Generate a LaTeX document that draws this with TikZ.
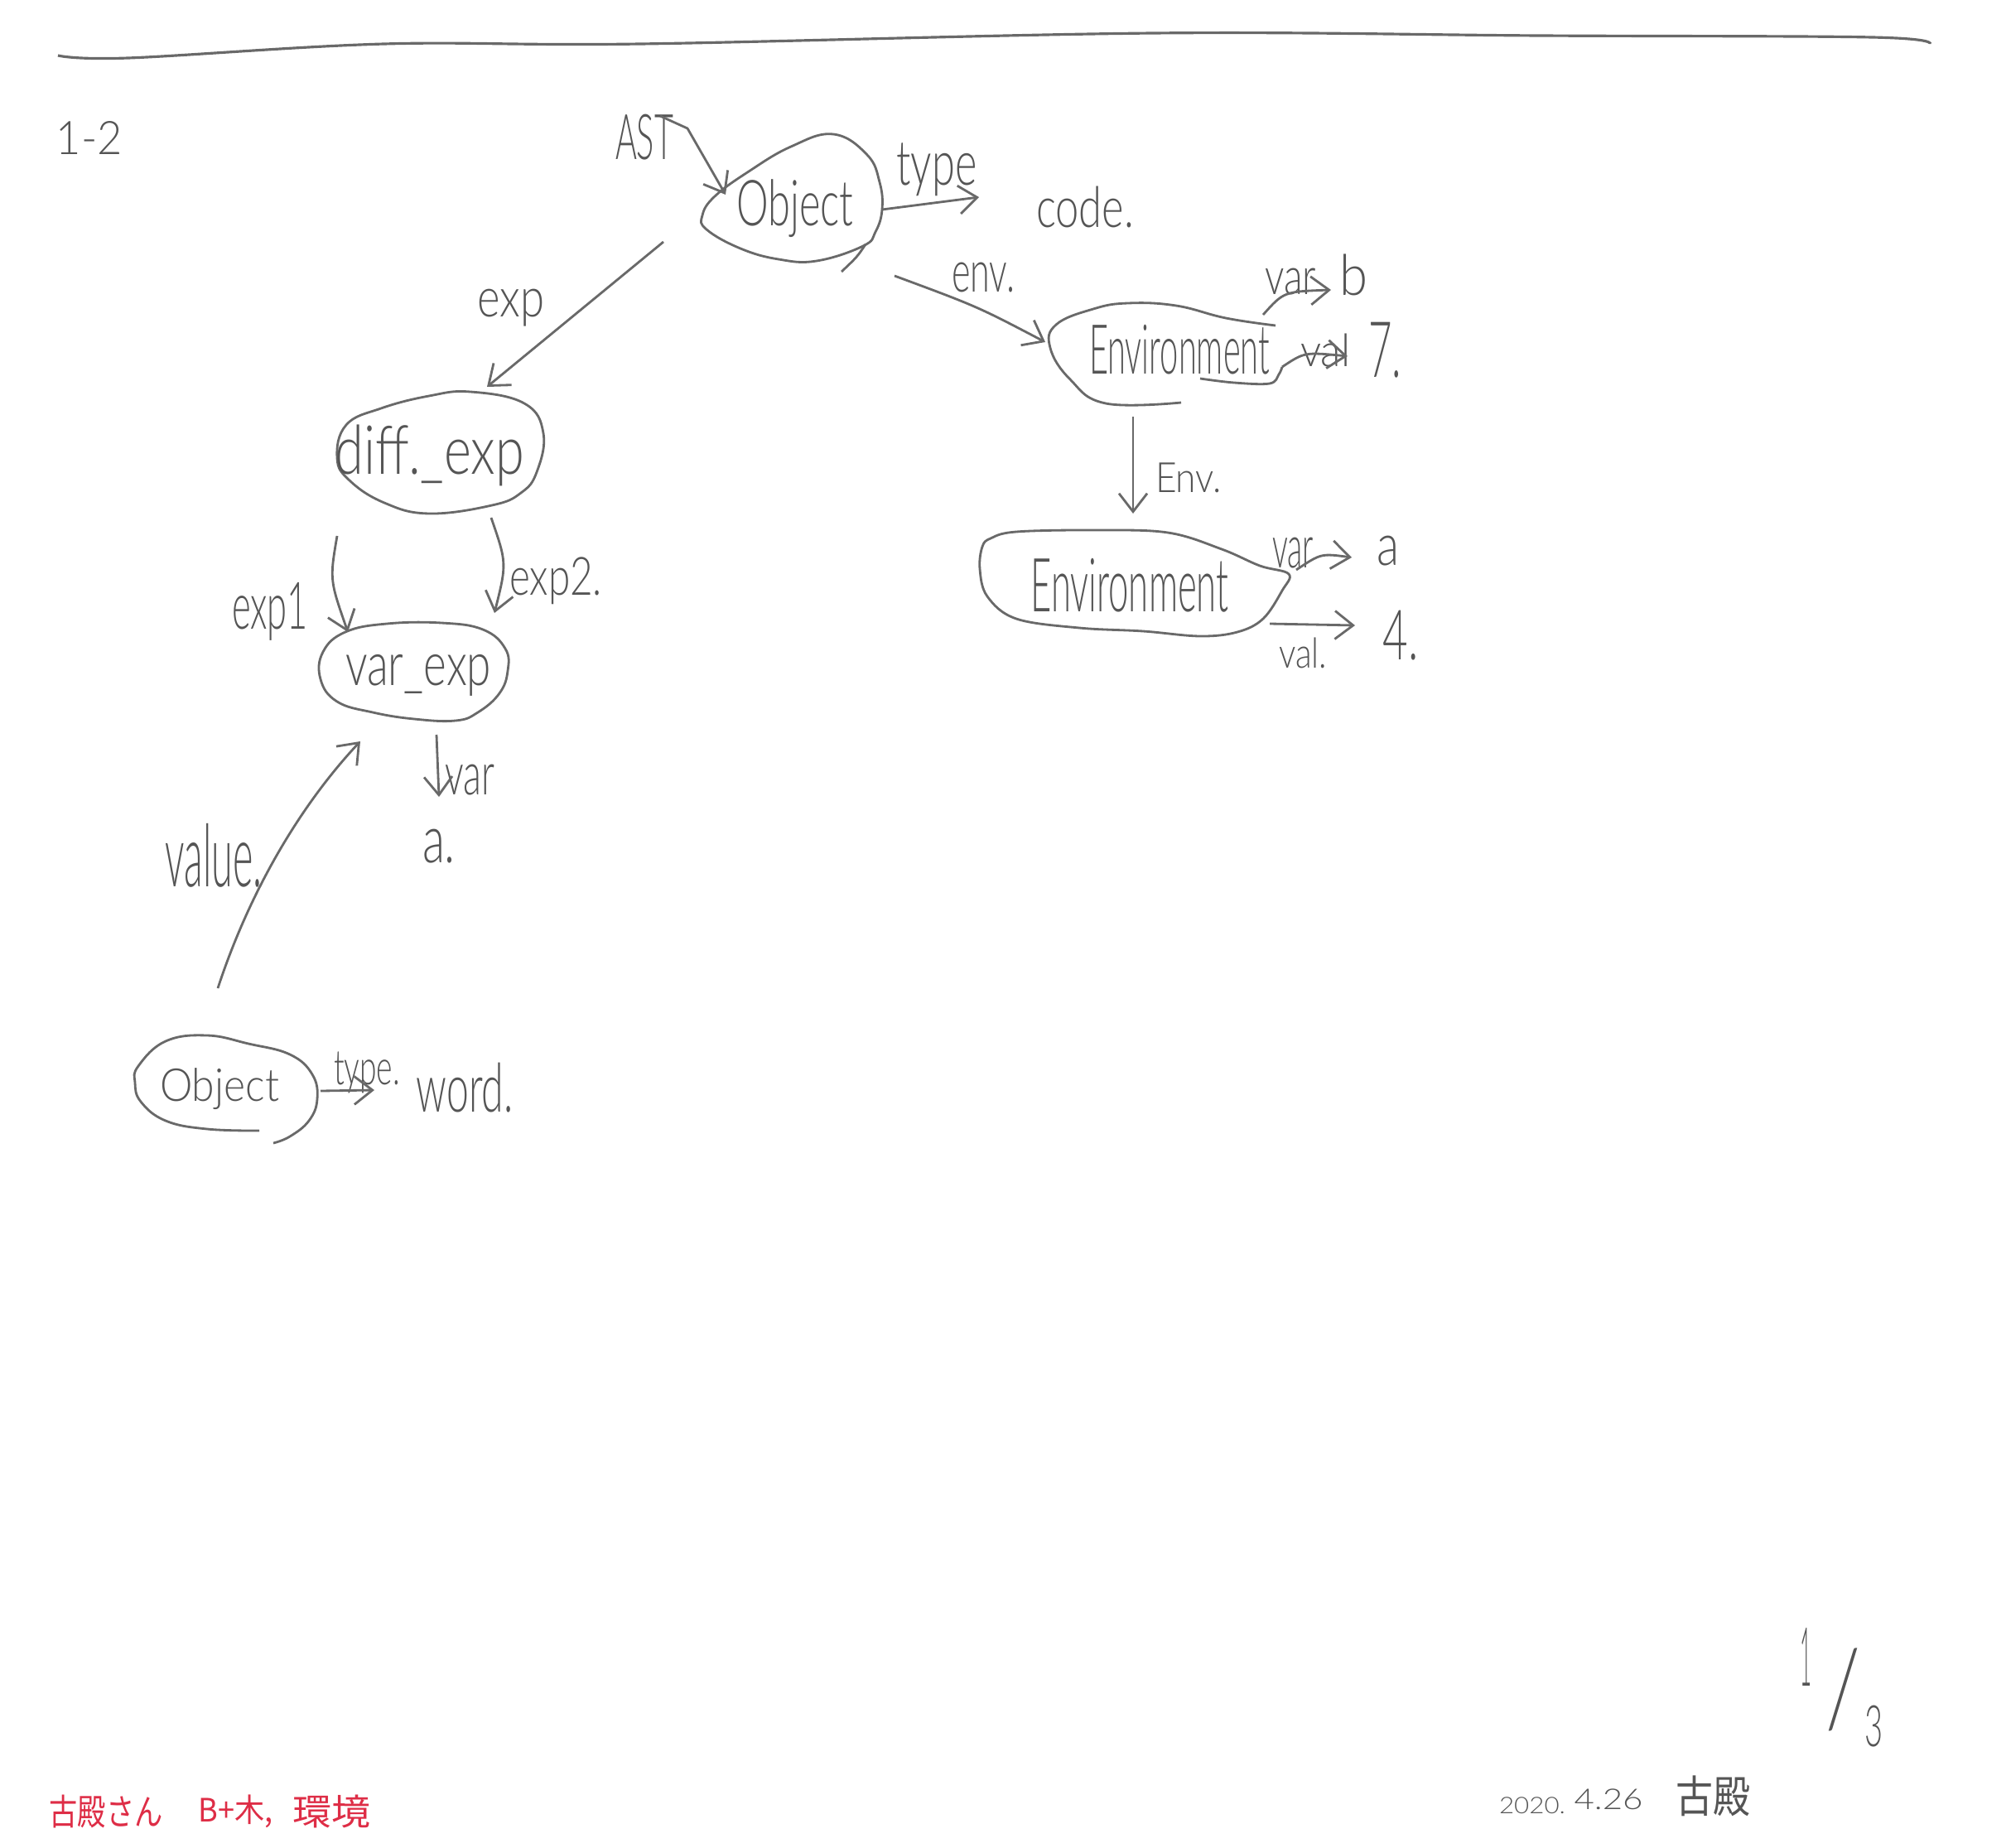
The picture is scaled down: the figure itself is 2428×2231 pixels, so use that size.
\documentclass[tikz,border=0pt]{standalone}
\usepackage{fontspec}
\IfFontExistsTF{Lato Light}{\setmainfont{Lato Light}}{\setmainfont{Noto Sans}}
\newfontfamily\cjk{Noto Sans CJK JP}
\usetikzlibrary{arrows.meta}
\newdimen\px \px=0.01cm
\newcommand{\hw}[3]{\resizebox*{#1\px}{#2\px}{#3}}
\definecolor{pencil}{RGB}{105,105,105}
\definecolor{lead}{RGB}{85,85,85}
\definecolor{redpen}{RGB}{222,45,70}
\begin{document}
\begin{tikzpicture}[x=0.01cm,y=-0.01cm,
  txt/.style={inner sep=0pt,outer sep=0pt,text=lead},
  redtxt/.style={inner sep=0pt,outer sep=0pt,text=redpen},
  blob/.style={draw=pencil,line width=0.8pt},
  conn/.style={draw=pencil,line width=0.8pt,-{Straight Barb[length=2.2mm,width=3.4mm]}}]
\useasboundingbox[fill=white] (0,0) rectangle (2428,2231);

% top rule
\draw[blob,line width=0.9pt] plot[smooth,tension=0.6] coordinates {(70,67) (155,70) (464,53) (774,53) (1393,40) (1858,43) (2260,45) (2330,53)};

% blobs
\draw[blob] plot[smooth cycle,tension=0.7] coordinates {(1006,162) (1047,187) (1062,220) (1065,253) (1057,280) (1042,297) (986,315) (940,313) (894,300) (853,277) (848,260) (863,237) (904,207) (955,177)};
\draw[blob] (1045,295) .. controls (1035,310) .. (1016,328);
\draw[blob] plot[smooth,tension=0.7] coordinates {(1426,486) (1335,487) (1292,458) (1268,420) (1275,392) (1320,373) (1362,366) (1420,369) (1480,384) (1540,393)};
\draw[blob] plot[smooth,tension=0.6] coordinates {(1449,457) (1490,462) (1533,463) (1544,452) (1548,443)};
\draw[blob] plot[smooth cycle,tension=0.6] coordinates {(1196,650) (1227,642) (1322,640) (1410,643) (1475,663) (1521,683) (1556,693) (1548,713) (1525,747) (1494,763) (1449,768) (1380,762) (1303,758) (1227,747) (1192,720) (1183,687) (1186,660)};
\draw[blob] plot[smooth cycle,tension=0.7] coordinates {(568,473) (633,487) (656,523) (648,570) (629,595) (594,610) (518,620) (464,607) (422,580) (407,553) (418,513) (460,493) (518,478)};
\draw[blob] plot[smooth cycle,tension=0.7] coordinates {(417,763) (467,753) (533,752) (583,760) (610,783) (613,810) (603,837) (577,860) (550,870) (500,868) (450,860) (407,847) (387,820) (390,787)};
\draw[blob] plot[smooth,tension=0.7] coordinates {(313,1365) (250,1363) (200,1353) (170,1330) (163,1307) (167,1287) (200,1257) (250,1250) (300,1260) (350,1273) (377,1297) (383,1327) (373,1353) (350,1372) (330,1380)};

% texts
\node[txt] (t12) at (108,167) {\hw{80}{40}{1-2}};
\node[txt] (ast) at (778,166) {\hw{70}{55}{AST}};
\node[txt] (obj) at (960,252) {\hw{141}{70}{Object}};
\node[txt] (typeA) at (1131,205) {\hw{97}{64}{type}};
\node[txt] (code) at (1310,250) {\hw{118}{50}{code.}};
\node[txt] (envl) at (1187,335) {\hw{76}{36}{env.}};
\node[txt] (envA) at (1424,422) {\hw{218}{60}{Environment}};
\node[txt] (varB) at (1558,340) {\hw{62}{32}{var}};
\node[txt] (bB) at (1634,332) {\hw{34}{50}{b}};
\node[txt] (valB) at (1600,423) {\hw{60}{40}{val}};
\node[txt] (seven) at (1672,423) {\hw{40}{67}{7.}};
\node[txt] (envlab) at (1435,577) {\hw{80}{36}{Env.}};
\node[txt] (envB) at (1364,707) {\hw{239}{65}{Environment}};
\node[txt] (varA) at (1561,668) {\hw{50}{37}{var}};
\node[txt] (aA) at (1676,665) {\hw{27}{36}{a}};
\node[txt] (valA) at (1573,788) {\hw{58}{37}{val.}};
\node[txt] (four) at (1691,767) {\hw{43}{60}{4.}};
\node[txt] (expl) at (617,372) {\hw{81}{45}{exp}};
\node[txt] (diff) at (519,550) {\hw{228}{74}{diff.\_exp}};
\node[txt] (exp1) at (326,738) {\hw{92}{70}{exp1}};
\node[txt] (exp2) at (671,701) {\hw{112}{57}{exp2.}};
\node[txt] (varexp) at (505,815) {\hw{176}{50}{var\_exp}};
\node[txt] (varl) at (567,942) {\hw{60}{37}{var}};
\node[txt] (aB) at (530,1022) {\hw{40}{41}{a.}};
\node[txt] (value) at (258,1033) {\hw{117}{77}{value.}};
\node[txt] (obj2) at (265,1315) {\hw{144}{50}{Object}};
\node[txt] (type2) at (443,1295) {\hw{80}{50}{type.}};
\node[txt] (word) at (561,1313) {\hw{117}{60}{word.}};

\node[redtxt] (r1) at (128,2187) {\hw{137}{40}{\cjk 古殿さん}};
\node[redtxt] (r2) at (285,2187) {\hw{90}{40}{\cjk B+木,}};
\node[redtxt] (r3) at (400,2187) {\hw{94}{40}{\cjk 環境}};
\node[txt] (d1) at (1850,2180) {\hw{80}{20}{2020.}};
\node[txt] (d2) at (1942,2172) {\hw{83}{25}{4.26}};
\node[txt] (d3) at (2068,2168) {\hw{90}{49}{\cjk 古殿}};
\node[txt] (p1) at (2180,2000) {\hw{14}{70}{1}};
\node[txt] (p2) at (2225,2040) {\hw{42}{100}{/}};
\node[txt] (p3) at (2262,2084) {\hw{22}{50}{3}};

% connectors
\coordinate (astS) at (797,140); \coordinate (astK) at (830,155); \coordinate (astE) at (876,235);
\draw[conn] (astS) -- (astK) -- (astE);
\coordinate (tyS) at (1065,253); \coordinate (tyE) at (1182,238);
\draw[conn] (tyS) -- (tyE);
\coordinate (evS) at (1080,333); \coordinate (evE) at (1262,413);
\draw[conn] (evS) .. controls (1180,370) .. (evE);
\coordinate (vbS) at (1525,380); \coordinate (vbE) at (1607,350);
\draw[conn] (vbS) .. controls (1550,352) .. (vbE);
\coordinate (lbS) at (1548,443); \coordinate (lbE) at (1627,430);
\draw[conn] (lbS) .. controls (1575,425) .. (lbE);
\coordinate (edS) at (1368,503); \coordinate (edE) at (1368,620);
\draw[conn] (edS) -- (edE);
\coordinate (vaS) at (1565,688); \coordinate (vaE) at (1632,673);
\draw[conn] (vaS) .. controls (1595,668) .. (vaE);
\coordinate (laS) at (1533,753); \coordinate (laE) at (1636,755);
\draw[conn] (laS) -- (laE);
\coordinate (exS) at (801,292); \coordinate (exE) at (588,467);
\draw[conn] (exS) -- (exE);
\coordinate (e1S) at (407,647); \coordinate (e1E) at (420,763);
\draw[conn] (e1S) .. controls (398,700) .. (e1E);
\coordinate (e2S) at (593,625); \coordinate (e2E) at (597,740);
\draw[conn] (e2S) .. controls (612,680) .. (e2E);
\coordinate (vS) at (527,887); \coordinate (vE) at (530,962);
\draw[conn] (vS) -- (vE);
\coordinate (valS) at (263,1193); \coordinate (valE) at (435,895);
\draw[conn] (valS) .. controls (300,1080) and (360,975) .. (valE);
\coordinate (t2S) at (387,1317); \coordinate (t2E) at (452,1316);
\draw[conn] (t2S) -- (t2E);
\end{tikzpicture}
\end{document}
